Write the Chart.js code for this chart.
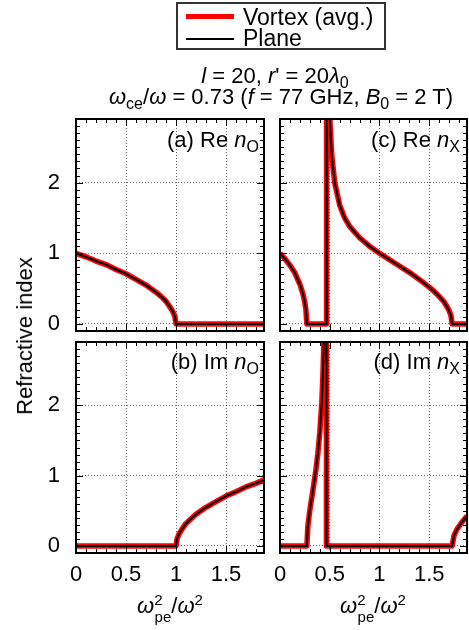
<!DOCTYPE html>
<html><head><meta charset="utf-8">
<script src="https://cdn.jsdelivr.net/npm/chart.js@4.4.0/dist/chart.umd.min.js"></script>
<style>
html,body{margin:0;padding:0;background:#fff;}
#wrap{position:relative;width:469px;height:630px;overflow:hidden;font-family:"Liberation Sans",Arial,Helvetica,sans-serif;color:#000;}
canvas{position:absolute;left:0;top:0;}
.t{position:absolute;white-space:nowrap;font-size:22px;line-height:22px;}
.c{transform:translateX(-50%);}
.r{transform:translateX(-100%);}
.sub{font-size:16px;position:relative;top:5px;}
.sup{font-size:15px;position:relative;top:-8px;}
.sub2{font-size:15px;position:relative;top:9px;}
#legend{position:absolute;left:176px;top:2px;width:210px;height:48px;box-sizing:border-box;border:2px solid #333;background:#fff;}
.ls{position:absolute;}
.lg{font-size:23px;line-height:23px;}
</style></head>
<body><div id="wrap">
<canvas id="pa" width="469" height="630"></canvas>
<canvas id="pb" width="469" height="630"></canvas>
<canvas id="pc" width="469" height="630"></canvas>
<canvas id="pd" width="469" height="630"></canvas>

<div id="legend"></div>
<div class="ls" style="left:186px;top:14px;width:48px;height:5px;background:#ff0000;"></div>
<div class="ls" style="left:186px;top:38px;width:48px;height:2px;background:#000;"></div>
<div class="t lg" id="lg1" style="left:243px;top:6px;"></div>
<div class="t lg" id="lg2" style="left:243px;top:27px;"></div>

<div class="t c" style="left:275px;top:65px;"><i>l</i> = 20, <i>r</i>' = 20<i>λ</i><span class="sub">0</span></div>
<div class="t c" style="left:281px;top:86px;"><i>ω</i><span class="sub">ce</span>/<i>ω</i> = 0.73 (<i>f</i> = 77 GHz, <i>B</i><span class="sub">0</span> = 2 T)</div>

<div class="t r" style="left:259px;top:129px;">(a) Re <i>n</i><span class="sub">O</span></div>
<div class="t r" style="left:460px;top:129px;">(c) Re <i>n</i><span class="sub">X</span></div>
<div class="t r" style="left:259px;top:351px;">(b) Im <i>n</i><span class="sub">O</span></div>
<div class="t r" style="left:460px;top:351px;">(d) Im <i>n</i><span class="sub">X</span></div>

<div class="t" style="left:25px;top:336px;transform:translate(-50%,-50%) rotate(-90deg);">Refractive index</div>

<div class="t c" style="left:170px;top:595px;"><i>ω</i><span class="sup">2</span><span class="sub2" style="margin-left:-8px;">pe</span>/<i>ω</i><span class="sup">2</span></div>
<div class="t c" style="left:373px;top:595px;"><i>ω</i><span class="sup">2</span><span class="sub2" style="margin-left:-8px;">pe</span>/<i>ω</i><span class="sup">2</span></div>
</div>
<script>
// ---- data ----
const seriesNames = ['Vortex (avg.)', 'Plane'];
const xTickValues = [0, 0.5, 1, 1.5];
const xTickLabels = ['0', '0.5', '1', '1.5'];
const yTickValues = [0, 1, 2];
const yTickLabels = ['0', '1', '2'];
const xRange = [0, 1.88];
const yRange = [-0.1, 2.9];

// (a) Re n_O
const xReNO = [0, 0.1, 0.2, 0.3, 0.4, 0.5, 0.6, 0.7, 0.8, 0.85, 0.9, 0.94, 0.97, 0.99, 1.0, 1.02, 1.88];
const reNO  = [1, 0.95, 0.89, 0.84, 0.77, 0.71, 0.63, 0.55, 0.45, 0.39, 0.32, 0.24, 0.17, 0.10, 0, 0, 0];
// (b) Im n_O
const xImNO = [0, 0.98, 1.0, 1.01, 1.03, 1.06, 1.1, 1.2, 1.3, 1.4, 1.5, 1.6, 1.7, 1.8, 1.88];
const imNO  = [0, 0, 0, 0.10, 0.17, 0.24, 0.32, 0.45, 0.55, 0.63, 0.71, 0.77, 0.84, 0.89, 0.94];
// (c) Re n_X
const xReNX = [0, 0.05, 0.1, 0.15, 0.2, 0.23, 0.25, 0.26, 0.27, 0.35, 0.467, 0.467, 0.47, 0.48, 0.49, 0.5, 0.52, 0.55, 0.6, 0.65, 0.7, 0.8, 0.9, 1.0, 1.1, 1.2, 1.3, 1.4, 1.5, 1.55, 1.6, 1.65, 1.68, 1.7, 1.72, 1.73, 1.88];
const reNX  = [1, 0.92, 0.83, 0.72, 0.56, 0.43, 0.30, 0.21, 0, 0, 0, 40, 9.3, 4.5, 3.45, 2.93, 2.39, 2.0, 1.68, 1.50, 1.38, 1.22, 1.10, 1.0, 0.91, 0.82, 0.73, 0.63, 0.52, 0.46, 0.39, 0.31, 0.24, 0.19, 0.11, 0, 0];
// (d) Im n_X
const xImNX = [0, 0.27, 0.28, 0.30, 0.32, 0.34, 0.36, 0.38, 0.40, 0.42, 0.43, 0.44, 0.45, 0.46, 0.467, 0.467, 1.0, 1.73, 1.75, 1.78, 1.8, 1.83, 1.86, 1.88];
const imNX  = [0, 0, 0.28, 0.51, 0.69, 0.88, 1.07, 1.31, 1.61, 2.04, 2.37, 2.84, 3.66, 5.8, 40, 0, 0, 0, 0.15, 0.24, 0.28, 0.34, 0.39, 0.43];

document.getElementById('lg1').textContent = seriesNames[0];
document.getElementById('lg2').textContent = seriesNames[1];

const FONT = '"Liberation Sans", Arial, Helvetica, sans-serif';
const W = 469, H = 630, YW = 60, XH = 45;

const framePlugin = {
  id: 'frame',
  afterDatasetsDraw(chart) {
    const {ctx, chartArea: a, scales: {x, y}} = chart;
    ctx.save();
    ctx.strokeStyle = '#000';
    ctx.lineWidth = 1;
    ctx.beginPath();
    for (let i = 0; i <= 18; i++) {
      const px = Math.round(x.getPixelForValue(i / 10)) + 0.5;
      const L = (i % 5 === 0) ? 7 : 4;
      ctx.moveTo(px, a.bottom); ctx.lineTo(px, a.bottom - L);
      ctx.moveTo(px, a.top); ctx.lineTo(px, a.top + L);
    }
    for (let i = 0; i <= 28; i++) {
      const py = Math.round(y.getPixelForValue(i / 10)) + 0.5;
      const L = (i % 10 === 0) ? 7 : 4;
      ctx.moveTo(a.left, py); ctx.lineTo(a.left + L, py);
      ctx.moveTo(a.right, py); ctx.lineTo(a.right - L, py);
    }
    ctx.stroke();
    ctx.lineWidth = 2;
    ctx.strokeRect(a.left, a.top, a.right - a.left, a.bottom - a.top);
    ctx.restore();
  }
};

function pts(xs, ys) { return xs.map((v, i) => ({x: v, y: ys[i]})); }

function makePanel(id, area, xs, ys, showX, showY) {
  new Chart(document.getElementById(id), {
    type: 'line',
    data: {
      datasets: [
        {label: seriesNames[1], data: pts(xs, ys), borderColor: '#000000', borderWidth: 2, pointRadius: 0, tension: 0, order: 0, clip: 0, borderJoinStyle: 'round'},
        {label: seriesNames[0], data: pts(xs, ys), borderColor: '#ff0000', borderWidth: 5.5, pointRadius: 0, tension: 0, order: 1, clip: 0, borderJoinStyle: 'round'}
      ]
    },
    options: {
      responsive: false, animation: false, devicePixelRatio: 1,
      layout: {padding: {left: area.left - YW, top: area.top, right: W - area.right, bottom: H - area.bottom - XH}},
      plugins: {legend: {display: false}, tooltip: {enabled: false}},
      scales: {
        x: {
          type: 'linear', min: xRange[0], max: xRange[1],
          afterBuildTicks: s => { s.ticks = xTickValues.map(v => ({value: v})); },
          afterFit: s => { s.height = XH; },
          ticks: {display: showX, padding: 9, color: '#000', font: {family: FONT, size: 22}, maxRotation: 0,
                  callback: v => xTickLabels[xTickValues.indexOf(v)]},
          grid: {color: 'rgba(0,0,0,0.6)', lineWidth: 1, drawTicks: false},
          border: {display: false, dash: [1, 2]}
        },
        y: {
          type: 'linear', min: yRange[0], max: yRange[1],
          afterBuildTicks: s => { s.ticks = yTickValues.map(v => ({value: v})); },
          afterFit: s => { s.width = YW; },
          ticks: {display: showY, padding: 16, color: '#000', font: {family: FONT, size: 22},
                  callback: v => yTickLabels[yTickValues.indexOf(v)]},
          grid: {color: 'rgba(0,0,0,0.6)', lineWidth: 1, drawTicks: false},
          border: {display: false, dash: [1, 2]}
        }
      }
    },
    plugins: [framePlugin]
  });
}

makePanel('pa', {left: 76, top: 119, right: 264, bottom: 331}, xReNO, reNO, false, true);
makePanel('pc', {left: 280, top: 119, right: 467, bottom: 331}, xReNX, reNX, false, false);
makePanel('pb', {left: 76, top: 342, right: 264, bottom: 553}, xImNO, imNO, true, true);
makePanel('pd', {left: 280, top: 342, right: 467, bottom: 553}, xImNX, imNX, true, false);
</script>
</body></html>
